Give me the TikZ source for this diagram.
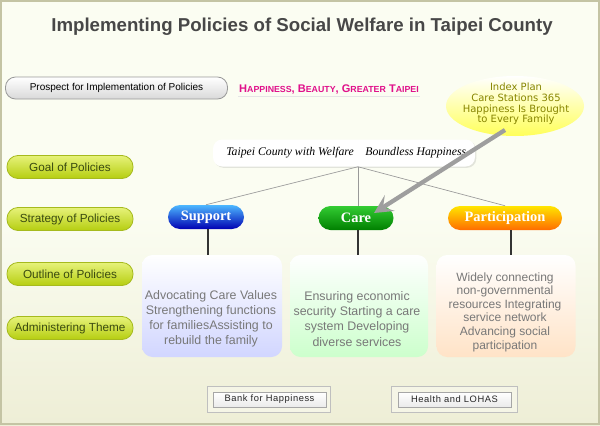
\documentclass[tikz,border=0pt]{standalone}
\usepackage{fontspec}
\setmainfont{Liberation Sans}
\newfontfamily\serifit{Liberation Serif}
\newfontfamily\dvsans{DejaVu Sans}
\newfontfamily\btnfont[LetterSpace=6]{Liberation Sans}
\usetikzlibrary{arrows.meta,shadows,shapes.geometric}
\definecolor{bgtop}{HTML}{FBFDF2}
\definecolor{bgbot}{HTML}{EEEED6}
\definecolor{frame}{HTML}{C4C4A4}
\definecolor{pilltop}{HTML}{E6F27A}
\definecolor{pillbot}{HTML}{B6CE10}
\definecolor{pillrim}{HTML}{A6BA1E}
\definecolor{pilltxt}{HTML}{3A4A10}
\definecolor{magenta1}{HTML}{E0108A}
\definecolor{olivetxt}{HTML}{878500}
\definecolor{boxtxt}{HTML}{787878}
\tikzset{
  leftpill/.style={rounded corners=11pt*0.75, draw=pillrim, line width=0.6pt, top color=pilltop, bottom color=pillbot, minimum width=126*0.75pt, minimum height=23*0.75pt, inner sep=0pt, text=pilltxt, font=\fontsize{8.8}{10}\selectfont},
  stratpill/.style={rounded corners=9pt, minimum height=24*0.75pt, inner sep=0pt, text=white, font=\serifit\bfseries\fontsize{10.8}{11}\selectfont},
  outbox/.style={rounded corners=8pt, top color=white, minimum height=102*0.75pt, inner sep=0pt},
  outtext/.style={align=center, text=boxtxt, inner sep=0pt, font=\fontsize{9.3}{11.3}\selectfont},
  treeline/.style={draw=gray!80, line width=0.5pt},
  stemline/.style={draw=black!80, line width=1.2pt},
  btnouter/.style={draw=black!25, fill=bgbot!60!white, minimum height=26*0.75pt, inner sep=0pt},
  btninner/.style={draw=black!35, top color=white, bottom color=black!8, minimum height=15*0.75pt, inner sep=0pt, text=black!85, font=\btnfont\fontsize{7}{8}\selectfont}
}
\begin{document}
\begin{tikzpicture}[x=0.75pt,y=-0.75pt]
\useasboundingbox (0,0) rectangle (600,425);
% background
\shade[top color=bgtop, bottom color=bgbot, middle color=bgtop] (0,0) rectangle (600,425);
\draw[frame, line width=2.2pt] (1,1) rectangle (599,424);
% title
\node (title) [text=black!72, font=\bfseries\fontsize{14}{16}\selectfont] at (302,27) {Implementing Policies of Social Welfare in Taipei County};
% prospect
\node (prospect) [rounded corners=10pt*0.75, draw=black!40, line width=0.6pt, top color=white, bottom color=black!15, minimum width=222*0.75pt, minimum height=22*0.75pt, inner sep=0pt, font=\fontsize{7.5}{10}\selectfont] at (116.5,88) {Prospect for Implementation of Policies};
\node (slogan) [text=magenta1, font=\bfseries\fontsize{8.3}{9}\selectfont] at (329,89) {H{\fontsize{6.6}{8}\selectfont APPINESS}, B{\fontsize{6.6}{8}\selectfont EAUTY}, G{\fontsize{6.6}{8}\selectfont REATER} T{\fontsize{6.6}{8}\selectfont AIPEI}};
\draw[black!10, line width=0.6pt] (238,96) -- (420,96);
% ellipse
\node (index) [ellipse, minimum width=138*0.75pt, minimum height=60*0.75pt, top color=white, bottom color=yellow!65!white, inner sep=0pt] at (515,106) {};
\node (indextxt) [align=center, text=olivetxt, font=\dvsans\fontsize{7.5}{8}\selectfont] at (516,104) {Index Plan\\Care Stations 365\\Happiness Is Brought\\to Every Family};
% goal
\node (goal) [rounded corners=7pt, fill=white, drop shadow={shadow xshift=1pt, shadow yshift=-1pt, opacity=0.2}, minimum width=262*0.75pt, minimum height=27*0.75pt, inner sep=0pt] at (344,153) {};
\node (goaltxt) [anchor=west, inner sep=0pt, font=\serifit\itshape\fontsize{8.8}{10}\selectfont] at (226,153) {Taipei County with Welfare\quad Boundless Happiness};
% left pills
\node (lgoal) [leftpill] at (70,167) {Goal of Policies};
\node (lstrat) [leftpill] at (70,219) {Strategy of Policies};
\node (lout) [leftpill] at (70,274) {Outline of Policies};
\node (ladm) [leftpill] at (70,328) {Administering Theme};
% strategies
\node (support) [stratpill, minimum width=76*0.75pt, top color=blue!40!cyan!70!white, bottom color=blue!70!black] at (206,217) {Support};
\node (care) [stratpill, minimum width=75*0.75pt, top color=green!75!black!80!white, bottom color=green!50!black] at (356,218) {Care};
\node (part) [stratpill, minimum width=114*0.75pt, top color=yellow!80!orange, bottom color=orange!85!red] at (505,218) {Participation};
% tree
\coordinate (hub) at (358,169);
\draw[treeline] (goal.south -| hub) -- (support.north);
\draw[treeline] (goal.south -| hub) -- (care.north -| hub);
\draw[treeline] (goal.south -| hub) -- (part.north);
% outline boxes
\node (o1) [outbox, minimum width=140*0.75pt, bottom color=cyan!10!blue!18!white] at (212,306) {};
\node (o1t) [outtext] at (211,319) {Advocating Care Values\\Strengthening functions\\for familiesAssisting to\\rebuild the family};
\node (o2) [outbox, minimum width=138*0.75pt, bottom color=green!20!white] at (359,306) {};
\node (o2t) [outtext] at (357,319) {Ensuring economic\\security Starting a care\\system Developing\\diverse services};
\node (o3) [outbox, minimum width=139*0.75pt, bottom color=orange!22!white] at (506,306) {};
\node (o3t) [outtext, font=\fontsize{9}{10.2}\selectfont] at (505,312) {Widely connecting\\non-governmental\\resources Integrating\\service network\\Advancing social\\participation};
% stems
\draw[stemline] (support.south -| 208,0) -- (o1.north -| 208,0);
\draw[stemline] (care.south -| 358,0) -- (o2.north -| 358,0);
\draw[stemline] (part.south -| 511,0) -- (o3.north -| 511,0);
% arrow
\coordinate (astart) at (505,130);
\draw[black!38, line width=3.2pt, -{Stealth[length=14pt,width=14pt,inset=6pt]}] (astart) -- (374,213);
% buttons
\node (b1o) [btnouter, minimum width=123*0.75pt] at (268.5,399) {};
\node (b1) [btninner, minimum width=113*0.75pt] at (269.5,399.5) {Bank for Happiness};
\node (b2o) [btnouter, minimum width=126*0.75pt] at (454,399) {};
\node (b2) [btninner, minimum width=113*0.75pt] at (454.5,399.5) {Health and LOHAS};
\end{tikzpicture}
\end{document}
